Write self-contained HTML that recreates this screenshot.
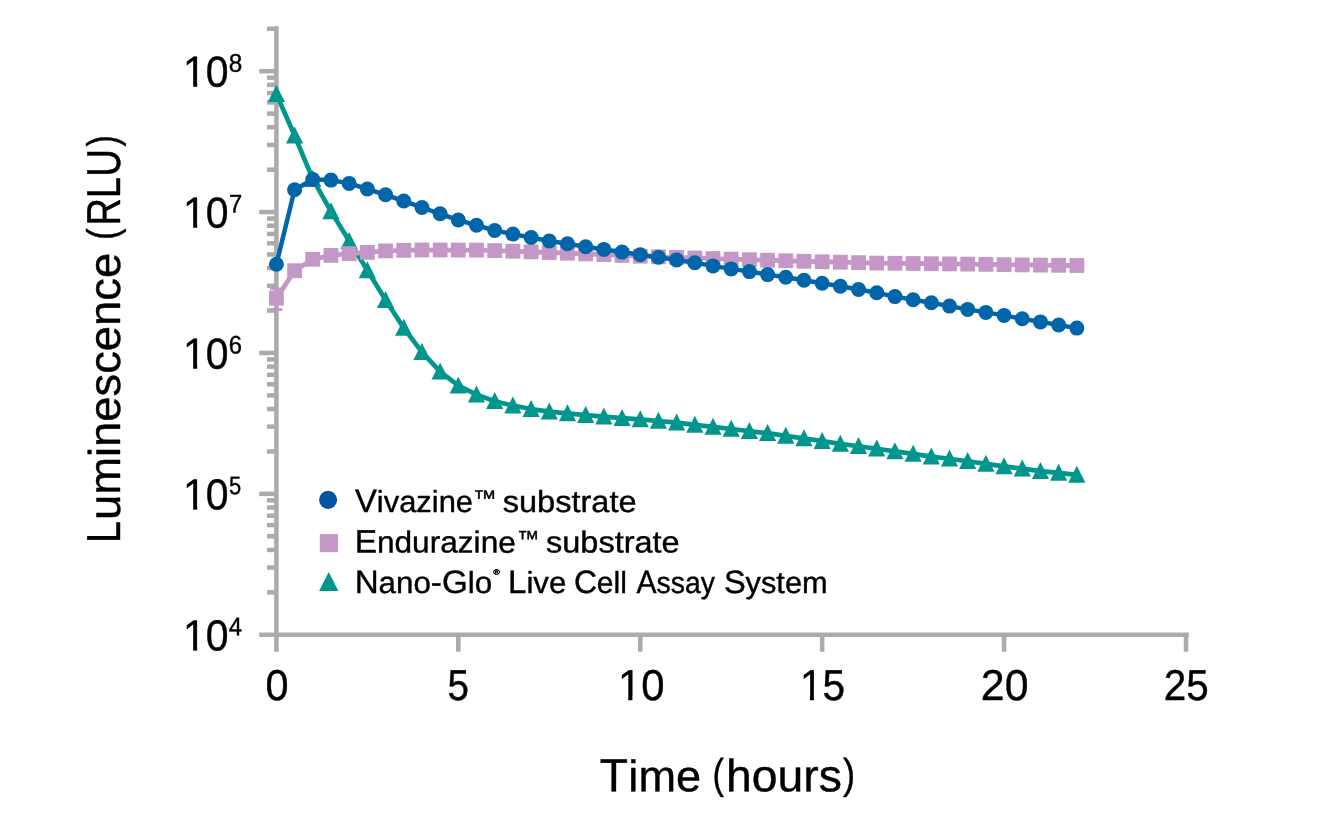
<!DOCTYPE html>
<html><head><meta charset="utf-8"><title>chart</title>
<style>html,body{margin:0;padding:0;background:#fff;}svg{display:block;will-change:transform;}text{font-family:"Liberation Sans",sans-serif;stroke:#000;stroke-width:0.4px;stroke-linejoin:round;}</style></head><body>
<svg width="1335" height="832" viewBox="0 0 1335 832">
<rect width="1335" height="832" fill="#fff"/>
<g stroke="#ababab" stroke-width="4.5" fill="none" stroke-linecap="butt">
<path d="M276.40 26.24V651.7"/>
<path d="M259.2 634.75H1188.85"/>
<path d="M267 592.34H276.40"/>
<path d="M267 567.53H276.40"/>
<path d="M267 549.93H276.40"/>
<path d="M267 536.27H276.40"/>
<path d="M267 525.12H276.40"/>
<path d="M267 515.69H276.40"/>
<path d="M267 507.52H276.40"/>
<path d="M267 500.31H276.40"/>
<path d="M259.2 493.86H276.40"/>
<path d="M267 451.45H276.40"/>
<path d="M267 426.64H276.40"/>
<path d="M267 409.04H276.40"/>
<path d="M267 395.39H276.40"/>
<path d="M267 384.23H276.40"/>
<path d="M267 374.80H276.40"/>
<path d="M267 366.63H276.40"/>
<path d="M267 359.42H276.40"/>
<path d="M259.2 352.98H276.40"/>
<path d="M267 310.56H276.40"/>
<path d="M267 285.75H276.40"/>
<path d="M267 268.15H276.40"/>
<path d="M267 254.50H276.40"/>
<path d="M267 243.34H276.40"/>
<path d="M267 233.91H276.40"/>
<path d="M267 225.74H276.40"/>
<path d="M267 218.53H276.40"/>
<path d="M259.2 212.09H276.40"/>
<path d="M267 169.68H276.40"/>
<path d="M267 144.87H276.40"/>
<path d="M267 127.26H276.40"/>
<path d="M267 113.61H276.40"/>
<path d="M267 102.46H276.40"/>
<path d="M267 93.02H276.40"/>
<path d="M267 84.85H276.40"/>
<path d="M267 77.65H276.40"/>
<path d="M259.2 71.20H276.40"/>
<path d="M267 28.79H276.40"/>
<path d="M458.32 634.75V651.7"/>
<path d="M640.24 634.75V651.7"/>
<path d="M822.16 634.75V651.7"/>
<path d="M1004.08 634.75V651.7"/>
<path d="M1186.00 634.75V651.7"/>
</g>
<polyline points="276.40,94.05 294.59,135.55 312.78,179.05 330.98,211.35 349.17,241.05 367.36,270.35 385.55,300.05 403.74,327.85 421.94,352.15 440.13,371.55 458.32,385.55 476.51,394.65 494.70,401.25 512.90,405.55 531.09,409.05 549.28,411.65 567.47,413.45 585.66,415.15 603.86,416.65 622.05,418.15 640.24,419.45 658.43,421.00 676.62,422.70 694.82,424.80 713.01,426.90 731.20,429.00 749.39,431.10 767.58,433.20 785.78,435.85 803.97,438.35 822.16,441.15 840.35,443.85 858.54,446.25 876.74,448.75 894.93,451.35 913.12,453.95 931.31,456.55 949.50,458.75 967.70,461.25 985.89,463.85 1004.08,466.35 1022.27,468.65 1040.46,471.05 1058.66,472.95 1076.85,474.95" fill="none" stroke="#00968d" stroke-width="4.7" stroke-linejoin="round"/>
<g fill="#00968d">
<path d="M276.40 84.90L285.00 101.90H267.80Z"/>
<path d="M294.59 126.40L303.19 143.40H285.99Z"/>
<path d="M312.78 169.90L321.38 186.90H304.18Z"/>
<path d="M330.98 202.20L339.58 219.20H322.38Z"/>
<path d="M349.17 231.90L357.77 248.90H340.57Z"/>
<path d="M367.36 261.20L375.96 278.20H358.76Z"/>
<path d="M385.55 290.90L394.15 307.90H376.95Z"/>
<path d="M403.74 318.70L412.34 335.70H395.14Z"/>
<path d="M421.94 343.00L430.54 360.00H413.34Z"/>
<path d="M440.13 362.40L448.73 379.40H431.53Z"/>
<path d="M458.32 376.40L466.92 393.40H449.72Z"/>
<path d="M476.51 385.50L485.11 402.50H467.91Z"/>
<path d="M494.70 392.10L503.30 409.10H486.10Z"/>
<path d="M512.90 396.40L521.50 413.40H504.30Z"/>
<path d="M531.09 399.90L539.69 416.90H522.49Z"/>
<path d="M549.28 402.50L557.88 419.50H540.68Z"/>
<path d="M567.47 404.30L576.07 421.30H558.87Z"/>
<path d="M585.66 406.00L594.26 423.00H577.06Z"/>
<path d="M603.86 407.50L612.46 424.50H595.26Z"/>
<path d="M622.05 409.00L630.65 426.00H613.45Z"/>
<path d="M640.24 410.30L648.84 427.30H631.64Z"/>
<path d="M658.43 411.85L667.03 428.85H649.83Z"/>
<path d="M676.62 413.55L685.22 430.55H668.02Z"/>
<path d="M694.82 415.65L703.42 432.65H686.22Z"/>
<path d="M713.01 417.75L721.61 434.75H704.41Z"/>
<path d="M731.20 419.85L739.80 436.85H722.60Z"/>
<path d="M749.39 421.95L757.99 438.95H740.79Z"/>
<path d="M767.58 424.05L776.18 441.05H758.98Z"/>
<path d="M785.78 426.70L794.38 443.70H777.18Z"/>
<path d="M803.97 429.20L812.57 446.20H795.37Z"/>
<path d="M822.16 432.00L830.76 449.00H813.56Z"/>
<path d="M840.35 434.70L848.95 451.70H831.75Z"/>
<path d="M858.54 437.10L867.14 454.10H849.94Z"/>
<path d="M876.74 439.60L885.34 456.60H868.14Z"/>
<path d="M894.93 442.20L903.53 459.20H886.33Z"/>
<path d="M913.12 444.80L921.72 461.80H904.52Z"/>
<path d="M931.31 447.40L939.91 464.40H922.71Z"/>
<path d="M949.50 449.60L958.10 466.60H940.90Z"/>
<path d="M967.70 452.10L976.30 469.10H959.10Z"/>
<path d="M985.89 454.70L994.49 471.70H977.29Z"/>
<path d="M1004.08 457.20L1012.68 474.20H995.48Z"/>
<path d="M1022.27 459.50L1030.87 476.50H1013.67Z"/>
<path d="M1040.46 461.90L1049.06 478.90H1031.86Z"/>
<path d="M1058.66 463.80L1067.26 480.80H1050.06Z"/>
<path d="M1076.85 465.80L1085.45 482.80H1068.25Z"/>
</g>
<g stroke="#c597c6" stroke-width="2.8" fill="none"><path d="M276.40 288.9V309.7M270.2 309.7H282.4M270.2 288.9H282.4"/></g>
<polyline points="276.40,298.20 294.59,270.70 312.78,259.30 330.98,255.40 349.17,253.60 367.36,252.40 385.55,250.90 403.74,250.30 421.94,250.00 440.13,250.03 458.32,250.07 476.51,250.10 494.70,250.60 512.90,251.23 531.09,251.87 549.28,252.50 567.47,253.20 585.66,253.90 603.86,254.60 622.05,255.40 640.24,256.20 658.43,256.80 676.62,257.40 694.82,257.97 713.01,258.55 731.20,259.12 749.39,259.70 767.58,260.23 785.78,260.77 803.97,261.30 822.16,261.75 840.35,262.20 858.54,262.65 876.74,263.10 894.93,263.30 913.12,263.50 931.31,263.70 949.50,263.90 967.70,264.10 985.89,264.37 1004.08,264.63 1022.27,264.90 1040.46,265.10 1058.66,265.30 1076.85,265.50" fill="none" stroke="#c597c6" stroke-width="4.8" stroke-linejoin="round"/>
<g fill="#c597c6">
<rect x="269.00" y="290.80" width="14.8" height="14.8"/>
<rect x="287.19" y="263.30" width="14.8" height="14.8"/>
<rect x="305.38" y="251.90" width="14.8" height="14.8"/>
<rect x="323.58" y="248.00" width="14.8" height="14.8"/>
<rect x="341.77" y="246.20" width="14.8" height="14.8"/>
<rect x="359.96" y="245.00" width="14.8" height="14.8"/>
<rect x="378.15" y="243.50" width="14.8" height="14.8"/>
<rect x="396.34" y="242.90" width="14.8" height="14.8"/>
<rect x="414.54" y="242.60" width="14.8" height="14.8"/>
<rect x="432.73" y="242.63" width="14.8" height="14.8"/>
<rect x="450.92" y="242.67" width="14.8" height="14.8"/>
<rect x="469.11" y="242.70" width="14.8" height="14.8"/>
<rect x="487.30" y="243.20" width="14.8" height="14.8"/>
<rect x="505.50" y="243.83" width="14.8" height="14.8"/>
<rect x="523.69" y="244.47" width="14.8" height="14.8"/>
<rect x="541.88" y="245.10" width="14.8" height="14.8"/>
<rect x="560.07" y="245.80" width="14.8" height="14.8"/>
<rect x="578.26" y="246.50" width="14.8" height="14.8"/>
<rect x="596.46" y="247.20" width="14.8" height="14.8"/>
<rect x="614.65" y="248.00" width="14.8" height="14.8"/>
<rect x="632.84" y="248.80" width="14.8" height="14.8"/>
<rect x="651.03" y="249.40" width="14.8" height="14.8"/>
<rect x="669.22" y="250.00" width="14.8" height="14.8"/>
<rect x="687.42" y="250.57" width="14.8" height="14.8"/>
<rect x="705.61" y="251.15" width="14.8" height="14.8"/>
<rect x="723.80" y="251.72" width="14.8" height="14.8"/>
<rect x="741.99" y="252.30" width="14.8" height="14.8"/>
<rect x="760.18" y="252.83" width="14.8" height="14.8"/>
<rect x="778.38" y="253.37" width="14.8" height="14.8"/>
<rect x="796.57" y="253.90" width="14.8" height="14.8"/>
<rect x="814.76" y="254.35" width="14.8" height="14.8"/>
<rect x="832.95" y="254.80" width="14.8" height="14.8"/>
<rect x="851.14" y="255.25" width="14.8" height="14.8"/>
<rect x="869.34" y="255.70" width="14.8" height="14.8"/>
<rect x="887.53" y="255.90" width="14.8" height="14.8"/>
<rect x="905.72" y="256.10" width="14.8" height="14.8"/>
<rect x="923.91" y="256.30" width="14.8" height="14.8"/>
<rect x="942.10" y="256.50" width="14.8" height="14.8"/>
<rect x="960.30" y="256.70" width="14.8" height="14.8"/>
<rect x="978.49" y="256.97" width="14.8" height="14.8"/>
<rect x="996.68" y="257.23" width="14.8" height="14.8"/>
<rect x="1014.87" y="257.50" width="14.8" height="14.8"/>
<rect x="1033.06" y="257.70" width="14.8" height="14.8"/>
<rect x="1051.26" y="257.90" width="14.8" height="14.8"/>
<rect x="1069.45" y="258.10" width="14.8" height="14.8"/>
</g>
<polyline points="276.40,264.25 294.59,189.70 312.78,179.50 330.98,180.10 349.17,183.40 367.36,189.00 385.55,194.80 403.74,201.00 421.94,207.50 440.13,213.80 458.32,220.00 476.51,225.30 494.70,230.50 512.90,234.10 531.09,237.50 549.28,241.00 567.47,243.80 585.66,246.70 603.86,249.40 622.05,252.10 640.24,254.70 658.43,257.20 676.62,259.90 694.82,262.80 713.01,265.90 731.20,268.90 749.39,271.60 767.58,274.60 785.78,277.30 803.97,280.20 822.16,283.20 840.35,286.20 858.54,289.50 876.74,292.70 894.93,296.60 913.12,299.70 931.31,302.80 949.50,306.10 967.70,309.40 985.89,312.40 1004.08,315.40 1022.27,318.80 1040.46,321.90 1058.66,325.00 1076.85,328.10" fill="none" stroke="#0065a9" stroke-width="4.5" stroke-linejoin="round"/>
<g fill="#0065a9">
<circle cx="276.40" cy="264.25" r="7.5"/>
<circle cx="294.59" cy="189.70" r="7.5"/>
<circle cx="312.78" cy="179.50" r="7.5"/>
<circle cx="330.98" cy="180.10" r="7.5"/>
<circle cx="349.17" cy="183.40" r="7.5"/>
<circle cx="367.36" cy="189.00" r="7.5"/>
<circle cx="385.55" cy="194.80" r="7.5"/>
<circle cx="403.74" cy="201.00" r="7.5"/>
<circle cx="421.94" cy="207.50" r="7.5"/>
<circle cx="440.13" cy="213.80" r="7.5"/>
<circle cx="458.32" cy="220.00" r="7.5"/>
<circle cx="476.51" cy="225.30" r="7.5"/>
<circle cx="494.70" cy="230.50" r="7.5"/>
<circle cx="512.90" cy="234.10" r="7.5"/>
<circle cx="531.09" cy="237.50" r="7.5"/>
<circle cx="549.28" cy="241.00" r="7.5"/>
<circle cx="567.47" cy="243.80" r="7.5"/>
<circle cx="585.66" cy="246.70" r="7.5"/>
<circle cx="603.86" cy="249.40" r="7.5"/>
<circle cx="622.05" cy="252.10" r="7.5"/>
<circle cx="640.24" cy="254.70" r="7.5"/>
<circle cx="658.43" cy="257.20" r="7.5"/>
<circle cx="676.62" cy="259.90" r="7.5"/>
<circle cx="694.82" cy="262.80" r="7.5"/>
<circle cx="713.01" cy="265.90" r="7.5"/>
<circle cx="731.20" cy="268.90" r="7.5"/>
<circle cx="749.39" cy="271.60" r="7.5"/>
<circle cx="767.58" cy="274.60" r="7.5"/>
<circle cx="785.78" cy="277.30" r="7.5"/>
<circle cx="803.97" cy="280.20" r="7.5"/>
<circle cx="822.16" cy="283.20" r="7.5"/>
<circle cx="840.35" cy="286.20" r="7.5"/>
<circle cx="858.54" cy="289.50" r="7.5"/>
<circle cx="876.74" cy="292.70" r="7.5"/>
<circle cx="894.93" cy="296.60" r="7.5"/>
<circle cx="913.12" cy="299.70" r="7.5"/>
<circle cx="931.31" cy="302.80" r="7.5"/>
<circle cx="949.50" cy="306.10" r="7.5"/>
<circle cx="967.70" cy="309.40" r="7.5"/>
<circle cx="985.89" cy="312.40" r="7.5"/>
<circle cx="1004.08" cy="315.40" r="7.5"/>
<circle cx="1022.27" cy="318.80" r="7.5"/>
<circle cx="1040.46" cy="321.90" r="7.5"/>
<circle cx="1058.66" cy="325.00" r="7.5"/>
<circle cx="1076.85" cy="328.10" r="7.5"/>
</g>
<circle cx="328.1" cy="499.85" r="9.05" fill="#0054a0"/>
<rect x="319.8" y="534.1" width="18.2" height="18.1" fill="#c597c6"/>
<path d="M328.7 571.9L338.4 591.0H319.1Z" fill="#00968d"/>
<text transform="rotate(0.05 355.06 511.95)" x="355.06" y="511.95" font-size="32.30" textLength="118.02" lengthAdjust="spacingAndGlyphs" fill="#000"><tspan font-size="32.30">V</tspan><tspan font-size="30.50">ivazine</tspan></text>
<text transform="rotate(0.05 473.03 505.55)" x="473.03" y="505.55" font-size="21.90" textLength="23.64" lengthAdjust="spacingAndGlyphs" fill="#000" >™</text>
<text transform="rotate(0.05 502.69 511.95)" x="502.69" y="511.95" font-size="32.30" textLength="133.85" lengthAdjust="spacingAndGlyphs" fill="#000"><tspan font-size="30.50">substrate</tspan></text>
<text transform="rotate(0.05 354.65 552.50)" x="354.65" y="552.50" font-size="32.30" textLength="161.15" lengthAdjust="spacingAndGlyphs" fill="#000"><tspan font-size="32.30">E</tspan><tspan font-size="30.50">ndurazine</tspan></text>
<text transform="rotate(0.05 516.95 546.10)" x="516.95" y="546.10" font-size="21.90" textLength="22.38" lengthAdjust="spacingAndGlyphs" fill="#000" >™</text>
<text transform="rotate(0.05 546.00 552.50)" x="546.00" y="552.50" font-size="32.30" textLength="133.65" lengthAdjust="spacingAndGlyphs" fill="#000"><tspan font-size="30.50">substrate</tspan></text>
<text transform="rotate(0.05 354.68 593.00)" x="354.68" y="593.00" font-size="32.30" textLength="137.44" lengthAdjust="spacingAndGlyphs" fill="#000"><tspan font-size="32.30">N</tspan><tspan font-size="30.50">ano</tspan><tspan font-size="32.30">-G</tspan><tspan font-size="30.50">lo</tspan></text>
<text transform="rotate(0.05 493.36 574.60)" x="493.36" y="574.60" font-size="7.50" textLength="6.57" lengthAdjust="spacingAndGlyphs" fill="#000" font-weight="bold">®</text>
<text transform="rotate(0.05 508.09 593.00)" x="508.09" y="593.00" font-size="32.30" textLength="58.19" lengthAdjust="spacingAndGlyphs" fill="#000"><tspan font-size="32.30">L</tspan><tspan font-size="30.50">ive</tspan></text>
<text transform="rotate(0.05 573.88 593.00)" x="573.88" y="593.00" font-size="32.30" textLength="53.02" lengthAdjust="spacingAndGlyphs" fill="#000"><tspan font-size="32.30">C</tspan><tspan font-size="30.50">ell</tspan></text>
<text transform="rotate(0.05 636.54 593.00)" x="636.54" y="593.00" font-size="32.30" textLength="78.31" lengthAdjust="spacingAndGlyphs" fill="#000"><tspan font-size="32.30">A</tspan><tspan font-size="30.50">ssay</tspan></text>
<text transform="rotate(0.05 723.92 593.00)" x="723.92" y="593.00" font-size="32.30" textLength="103.70" lengthAdjust="spacingAndGlyphs" fill="#000"><tspan font-size="32.30">S</tspan><tspan font-size="30.50">ystem</tspan></text>
<text transform="rotate(0.05 183.06 650.15)" x="183.06" y="650.15" font-size="43.20" textLength="45.54" lengthAdjust="spacingAndGlyphs" fill="#000" >10</text><rect x="184.38" y="645.92" width="8.76" height="5.43" fill="#fff"/><rect x="197.20" y="645.92" width="8.44" height="5.43" fill="#fff"/>
<text transform="rotate(0.05 228.85 635.25)" x="228.85" y="635.25" font-size="25.60" textLength="13.24" lengthAdjust="spacingAndGlyphs" fill="#000" >4</text>
<text transform="rotate(0.05 183.06 509.26)" x="183.06" y="509.26" font-size="43.20" textLength="45.54" lengthAdjust="spacingAndGlyphs" fill="#000" >10</text><rect x="184.38" y="505.04" width="8.76" height="5.43" fill="#fff"/><rect x="197.20" y="505.04" width="8.44" height="5.43" fill="#fff"/>
<text transform="rotate(0.05 229.02 494.36)" x="229.02" y="494.36" font-size="25.60" textLength="12.20" lengthAdjust="spacingAndGlyphs" fill="#000" >5</text>
<text transform="rotate(0.05 183.06 368.38)" x="183.06" y="368.38" font-size="43.20" textLength="45.54" lengthAdjust="spacingAndGlyphs" fill="#000" >10</text><rect x="184.38" y="364.15" width="8.76" height="5.43" fill="#fff"/><rect x="197.20" y="364.15" width="8.44" height="5.43" fill="#fff"/>
<text transform="rotate(0.05 228.69 353.48)" x="228.69" y="353.48" font-size="25.60" textLength="13.26" lengthAdjust="spacingAndGlyphs" fill="#000" >6</text>
<text transform="rotate(0.05 183.06 227.49)" x="183.06" y="227.49" font-size="43.20" textLength="45.54" lengthAdjust="spacingAndGlyphs" fill="#000" >10</text><rect x="184.38" y="223.26" width="8.76" height="5.43" fill="#fff"/><rect x="197.20" y="223.26" width="8.44" height="5.43" fill="#fff"/>
<text transform="rotate(0.05 228.88 212.59)" x="228.88" y="212.59" font-size="25.60" textLength="13.21" lengthAdjust="spacingAndGlyphs" fill="#000" >7</text>
<text transform="rotate(0.05 183.06 86.60)" x="183.06" y="86.60" font-size="43.20" textLength="45.54" lengthAdjust="spacingAndGlyphs" fill="#000" >10</text><rect x="184.38" y="82.37" width="8.76" height="5.43" fill="#fff"/><rect x="197.20" y="82.37" width="8.44" height="5.43" fill="#fff"/>
<text transform="rotate(0.05 228.64 71.70)" x="228.64" y="71.70" font-size="25.60" textLength="13.51" lengthAdjust="spacingAndGlyphs" fill="#000" >8</text>
<text transform="rotate(0.05 265.38 700.10)" x="265.38" y="700.10" font-size="43.20" textLength="23.04" lengthAdjust="spacingAndGlyphs" fill="#000" >0</text>
<text transform="rotate(0.05 447.55 700.10)" x="447.55" y="700.10" font-size="43.20" textLength="21.47" lengthAdjust="spacingAndGlyphs" fill="#000" >5</text>
<text transform="rotate(0.05 617.97 700.10)" x="617.97" y="700.10" font-size="43.20" textLength="46.56" lengthAdjust="spacingAndGlyphs" fill="#000" >10</text><rect x="619.36" y="695.87" width="8.92" height="5.43" fill="#fff"/><rect x="632.42" y="695.87" width="8.59" height="5.43" fill="#fff"/>
<text transform="rotate(0.05 799.89 700.10)" x="799.89" y="700.10" font-size="43.20" textLength="45.22" lengthAdjust="spacingAndGlyphs" fill="#000" >15</text><rect x="801.19" y="695.87" width="8.71" height="5.43" fill="#fff"/><rect x="813.92" y="695.87" width="8.39" height="5.43" fill="#fff"/>
<text transform="rotate(0.05 980.85 700.10)" x="980.85" y="700.10" font-size="43.20" textLength="47.63" lengthAdjust="spacingAndGlyphs" fill="#000" >20</text>
<text transform="rotate(0.05 1163.87 700.10)" x="1163.87" y="700.10" font-size="43.20" textLength="44.93" lengthAdjust="spacingAndGlyphs" fill="#000" >25</text>
<text transform="rotate(0.05 599.86 791.20)" x="599.86" y="791.20" font-size="46.70" textLength="28.20" lengthAdjust="spacingAndGlyphs" fill="#000" >T</text>
<text transform="rotate(0.05 628.39 791.20)" x="628.39" y="791.20" font-size="44.00" textLength="72.62" lengthAdjust="spacingAndGlyphs" fill="#000" >ime</text>
<text transform="rotate(0.05 712.57 788.20)" x="712.57" y="788.20" font-size="42.00" textLength="11.43" lengthAdjust="spacingAndGlyphs" fill="#000" >(</text>
<text transform="rotate(0.05 726.09 791.20)" x="726.09" y="791.20" font-size="45.20" textLength="115.68" lengthAdjust="spacingAndGlyphs" fill="#000" >hours</text>
<text transform="rotate(0.05 842.99 788.20)" x="842.99" y="788.20" font-size="42.00" textLength="12.18" lengthAdjust="spacingAndGlyphs" fill="#000" >)</text>
<g transform="rotate(-90)"><text transform="rotate(0.05 -542.94 119.90)" x="-542.94" y="119.90" font-size="47.60" textLength="21.95" lengthAdjust="spacingAndGlyphs" fill="#000" >L</text><text transform="rotate(0.05 -520.05 119.90)" x="-520.05" y="119.90" font-size="44.60" textLength="267.26" lengthAdjust="spacingAndGlyphs" fill="#000" >uminescence</text><text transform="rotate(0.05 -240.05 116.90)" x="-240.05" y="116.90" font-size="42.80" textLength="11.56" lengthAdjust="spacingAndGlyphs" fill="#000" >(</text><text transform="rotate(0.05 -225.85 119.90)" x="-225.85" y="119.90" font-size="47.60" textLength="76.70" lengthAdjust="spacingAndGlyphs" fill="#000" >RLU</text><text transform="rotate(0.05 -146.50 116.90)" x="-146.50" y="116.90" font-size="42.80" textLength="11.30" lengthAdjust="spacingAndGlyphs" fill="#000" >)</text></g>
</svg></body></html>
